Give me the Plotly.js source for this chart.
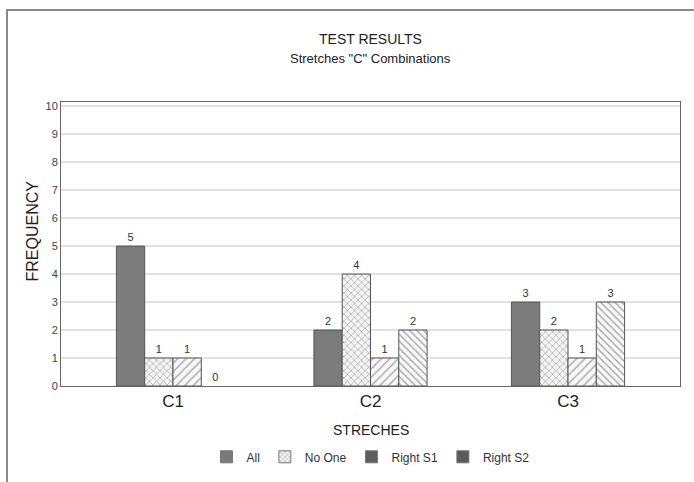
<!DOCTYPE html>
<html>
<head>
<meta charset="utf-8">
<script src="https://cdn.plot.ly/plotly-3.0.1.min.js"></script>
<style>
  html, body { margin: 0; padding: 0; background: #ffffff; }
  #wrap { position: relative; width: 694px; height: 482px; overflow: hidden; }
  #frame { position: absolute; left: 6px; top: 9px; width: 720px; height: 520px;
           border-left: 2px solid #8a8a8a; border-top: 2px solid #8a8a8a; }
  #chart { position: absolute; left: 0; top: 0; width: 694px; height: 482px; }
</style>
</head>
<body>
<div id="wrap">
  <div id="frame"></div>
  <div id="chart"></div>
</div>
<script>
const categories = ['C1', 'C2', 'C3'];
const seriesNames = ['All', 'No One', 'Right S1', 'Right S2'];
const allValues = [5, 2, 3];
const noOneValues = [1, 4, 2];
const rightS1Values = [1, 1, 1];
const rightS2Values = [0, 2, 3];
const yTicks = [0, 1, 2, 3, 4, 5, 6, 7, 8, 9, 10];

const FONT = 'Liberation Sans, Arial, sans-serif';
const lineCol = '#555555';

function barTrace(name, values, marker) {
  return {
    type: 'bar', name: name, x: categories, y: values,
    marker: Object.assign({ line: { color: lineCol, width: values.map(v => v === 0 ? 0 : 1) } }, marker),
    text: values.map(String), textposition: 'outside', cliponaxis: false,
    textfont: { family: FONT, size: 11, color: '#333333' },
    showlegend: false, hoverinfo: 'x+y'
  };
}

const data = [
  barTrace(seriesNames[0], allValues, { color: '#7c7c7c' }),
  barTrace(seriesNames[1], noOneValues, { color: '#f2f2f2',
    pattern: { shape: 'x', size: 5, solidity: 0.25, fgcolor: '#a8a8a8', bgcolor: '#f4f4f4' } }),
  barTrace(seriesNames[2], rightS1Values, { color: '#f7f7f7',
    pattern: { shape: '/', size: 6, solidity: 0.2, fgcolor: '#a0a0a0', bgcolor: '#f8f8f8' } }),
  barTrace(seriesNames[3], rightS2Values, { color: '#f7f7f7',
    pattern: { shape: '\\', size: 5, solidity: 0.25, fgcolor: '#a0a0a0', bgcolor: '#f8f8f8' } })
];

// legend-only entries (the reference legend shows solid swatches for Right S1/S2)
const legendMarkers = [
  { color: '#7a7a7a' },
  { color: '#f2f2f2', pattern: { shape: 'x', size: 4, solidity: 0.3, fgcolor: '#aaaaaa', bgcolor: '#f4f4f4' } },
  { color: '#5e5e5e' },
  { color: '#5a5a5a' }
];
seriesNames.forEach((n, i) => {
  data.push({
    type: 'bar', name: n, x: categories, y: categories.map(() => null),
    xaxis: 'x2', yaxis: 'y2',
    marker: Object.assign({ line: { color: '#777777', width: 1 } }, legendMarkers[i]),
    showlegend: true, hoverinfo: 'skip'
  });
});

const layout = {
  width: 694, height: 482,
  margin: { l: 61, r: 14, t: 102, b: 95 },
  paper_bgcolor: 'rgba(0,0,0,0)', plot_bgcolor: '#ffffff',
  font: { family: FONT, color: '#333333' },
  barmode: 'group', bargap: 0.427, bargroupgap: 0,
  showlegend: true,
  legend: {
    orientation: 'h', x: 0.5, xanchor: 'center', y: -0.245, yanchor: 'middle',
    font: { family: FONT, size: 12, color: '#333333' },
    traceorder: 'normal', itemclick: false, itemdoubleclick: false
  },
  xaxis: {
    type: 'category', range: [-0.567, 2.567],
    showgrid: false, showline: true, linecolor: '#666666', linewidth: 1, mirror: true,
    ticks: '', tickfont: { family: FONT, size: 17, color: '#222222' },
    zeroline: false, fixedrange: true
  },
  yaxis: {
    range: [0, 10.15], tickvals: yTicks, ticktext: yTicks.map(String),
    showgrid: true, gridcolor: '#e2e2e2', gridwidth: 1.5,
    showline: true, linecolor: '#666666', linewidth: 1, mirror: true,
    ticks: '', tickfont: { family: FONT, size: 11, color: '#444444' },
    zeroline: false, fixedrange: true
  },
  xaxis2: { type: 'category', overlaying: 'x', visible: false, fixedrange: true, range: [-0.567, 2.567] },
  yaxis2: { overlaying: 'y', visible: false, fixedrange: true, range: [0, 10.15] },
  annotations: [
    { text: 'TEST RESULTS', xref: 'paper', yref: 'paper', x: 0.5, y: (387 - 39) / 285,
      xanchor: 'center', yanchor: 'middle', showarrow: false,
      font: { family: FONT, size: 14, color: '#222222' } },
    { text: 'Stretches "C" Combinations', xref: 'paper', yref: 'paper', x: 0.5, y: (387 - 58) / 285,
      xanchor: 'center', yanchor: 'middle', showarrow: false,
      font: { family: FONT, size: 13, color: '#222222' } },
    { text: 'STRECHES', xref: 'paper', yref: 'paper', x: 0.5, y: (387 - 431) / 285,
      xanchor: 'center', yanchor: 'middle', showarrow: false,
      font: { family: FONT, size: 14, color: '#222222' } },
    { text: 'FREQUENCY', xref: 'paper', yref: 'paper', x: (33 - 61) / 619, y: (387 - 232) / 285,
      xanchor: 'center', yanchor: 'middle', showarrow: false, textangle: -90,
      font: { family: FONT, size: 16, color: '#222222' } }
  ]
};

Plotly.newPlot('chart', data, layout, { displayModeBar: false, staticPlot: true });
</script>
</body>
</html>
